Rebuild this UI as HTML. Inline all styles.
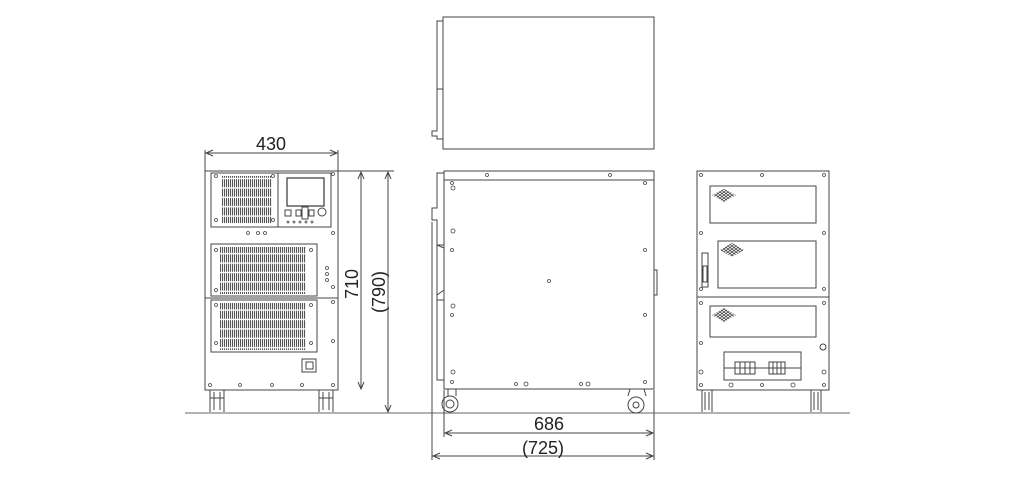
<!DOCTYPE html>
<html><head><meta charset="utf-8"><style>
html,body{margin:0;padding:0;background:#fff;}
svg{display:block;}
text{font-family:"Liberation Sans",sans-serif;fill:#222;}
</style></head><body>
<svg width="1024" height="482" viewBox="0 0 1024 482" xmlns="http://www.w3.org/2000/svg">
<defs>
<pattern id="v" width="2" height="9.4" patternUnits="userSpaceOnUse">
<rect x="0" y="0.6" width="1.1" height="8" fill="#555"/>
</pattern>
<pattern id="m" width="4" height="3" patternUnits="userSpaceOnUse">
<path d="M0 0L4 3M4 0L0 3" stroke="#333" stroke-width="0.7"/>
</pattern>
</defs>
<g fill="none" stroke="#444" stroke-width="1">
<line x1="185" y1="413" x2="850" y2="413" stroke="#666"/>

<!-- TOP VIEW -->
<rect x="443" y="17" width="211" height="132"/>
<path d="M443 21H437V131H432V136H437V139H443"/>
<line x1="437" y1="89" x2="443" y2="89"/>

<!-- FRONT VIEW -->
<rect x="205" y="171" width="133" height="219"/>
<rect x="211" y="173" width="67" height="54"/>
<rect x="278" y="173" width="53" height="54"/>
<rect x="287" y="178" width="37" height="28" stroke-width="1.3"/>
<rect x="285" y="210" width="6" height="6"/>
<rect x="296" y="210" width="5" height="6"/>
<rect x="302" y="207" width="6" height="12"/>
<rect x="309" y="210" width="5" height="6"/>
<circle cx="322" cy="212" r="4"/>
<rect x="211" y="244" width="106" height="52"/>
<rect x="211" y="300" width="106" height="52"/>
<line x1="205" y1="298" x2="338" y2="298"/>
<rect x="302" y="359" width="14" height="13"/>
<rect x="306" y="362" width="7" height="7"/>
<path d="M210 390V412M224 390V412M214 392V410M220 392V410M210 398H224"/>
<path d="M319 390V412M333 390V412M323 392V410M329 392V410M319 398H333"/>
<line x1="205" y1="150" x2="205" y2="171"/>
<line x1="338" y1="150" x2="338" y2="171"/>
<line x1="206" y1="153" x2="337" y2="153"/>
<path d="M213 150L206 153L213 156M330 150L337 153L330 156"/>
<line x1="338" y1="171" x2="394" y2="171"/>
<line x1="361" y1="172" x2="361" y2="389"/>
<path d="M358 179L361 172L364 179M358 382L361 389L364 382"/>
<line x1="388" y1="172" x2="388" y2="412"/>
<path d="M385 179L388 172L391 179M385 405L388 412L391 405"/>

<!-- SIDE VIEW -->
<rect x="444" y="171" width="210" height="218"/>
<line x1="444" y1="180" x2="654" y2="180"/>
<path d="M444 173H437V208H432V220H437V245H444M437 245V380H444M437 245L444 248"/>
<path d="M437 295L444 290M437 300L444 300"/>
<path d="M654 270H657V295H654"/>
<circle cx="450" cy="404" r="8"/><circle cx="450" cy="404" r="4"/>
<path d="M448 389V396M456 389V396"/>
<circle cx="636" cy="405" r="8"/><circle cx="636" cy="405" r="3"/>
<path d="M630 389L628 396M644 389L646 396"/>
<line x1="444" y1="390" x2="444" y2="437"/>
<line x1="654" y1="390" x2="654" y2="460"/>
<line x1="432" y1="222" x2="432" y2="460"/>
<line x1="445" y1="433" x2="653" y2="433"/>
<path d="M452 430L445 433L452 436M646 430L653 433L646 436"/>
<line x1="433" y1="456" x2="653" y2="456"/>
<path d="M440 453L433 456L440 459M646 453L653 456L646 459"/>

<!-- REAR VIEW -->
<rect x="697" y="171" width="132" height="219"/>
<rect x="710" y="186" width="106" height="37"/>
<rect x="718" y="241" width="98" height="47"/>
<line x1="697" y1="297" x2="829" y2="297"/>
<rect x="710" y="306" width="106" height="31"/>
<rect x="724" y="352" width="77" height="28"/>
<line x1="724" y1="368" x2="801" y2="368"/>
<rect x="702" y="253" width="6" height="34"/>
<rect x="703" y="266" width="4" height="16"/>
<path d="M735 362h20v12h-20zM740 362v12M745 362v12M750 362v12"/>
<path d="M769 362h16v12h-16zM773 362v12M777 362v12M781 362v12"/>
<circle cx="823" cy="347" r="3"/>
<path d="M702 390V412M712 390V412M705 392V410M709 392V410"/>
<path d="M811 390V412M821 390V412M814 392V410M818 392V410"/>
</g>
<g>
<rect x="222" y="176" width="50" height="47" fill="url(#v)"/>
<rect x="220" y="247" width="86" height="47" fill="url(#v)"/>
<rect x="220" y="303" width="86" height="47" fill="url(#v)"/>
<polygon points="712,195 724,189 736,195 724,202" fill="url(#m)"/>
<polygon points="720,250 732,243 744,250 732,257" fill="url(#m)"/>
<polygon points="712,315 724,308 736,315 724,322" fill="url(#m)"/>
</g>
<g fill="none" stroke="#444" stroke-width="0.8">
<circle cx="216" cy="176" r="1.5"/><circle cx="273" cy="176" r="1.5"/><circle cx="216" cy="220" r="1.5"/><circle cx="273" cy="220" r="1.5"/>
<circle cx="333" cy="174" r="1.5"/><circle cx="333" cy="233" r="1.5"/><circle cx="333" cy="287" r="1.5"/><circle cx="333" cy="302" r="1.5"/><circle cx="333" cy="341" r="1.5"/><circle cx="333" cy="385" r="1.5"/>
<circle cx="216" cy="250" r="1.5"/><circle cx="311" cy="250" r="1.5"/><circle cx="216" cy="290" r="1.5"/><circle cx="216" cy="305" r="1.5"/><circle cx="311" cy="305" r="1.5"/><circle cx="216" cy="343" r="1.5"/><circle cx="311" cy="343" r="1.5"/>
<circle cx="327" cy="268" r="1.5"/><circle cx="327" cy="274" r="1.5"/><circle cx="327" cy="280" r="1.5"/>
<circle cx="248" cy="233" r="1.5"/><circle cx="258" cy="233" r="1.5"/><circle cx="265" cy="233" r="1.5"/>
<circle cx="288" cy="222" r="1"/><circle cx="294" cy="222" r="1"/><circle cx="300" cy="222" r="1"/><circle cx="306" cy="222" r="1"/><circle cx="312" cy="222" r="1"/>
<circle cx="210" cy="385" r="1.5"/><circle cx="240" cy="385" r="1.5"/><circle cx="272" cy="385" r="1.5"/><circle cx="302" cy="385" r="1.5"/>
<circle cx="487" cy="175" r="1.5"/><circle cx="610" cy="175" r="1.5"/>
<circle cx="452" cy="183" r="1.5"/><circle cx="453" cy="188" r="2"/><circle cx="453" cy="231" r="2"/><circle cx="452" cy="250" r="1.5"/><circle cx="453" cy="306" r="2"/><circle cx="452" cy="315" r="1.5"/><circle cx="453" cy="372" r="2"/><circle cx="452" cy="382" r="1.5"/>
<circle cx="645" cy="183" r="1.5"/><circle cx="645" cy="250" r="1.5"/><circle cx="645" cy="315" r="1.5"/><circle cx="645" cy="382" r="1.5"/>
<circle cx="549" cy="281" r="1.5"/>
<circle cx="516" cy="384" r="1.5"/><circle cx="526" cy="384" r="2"/><circle cx="581" cy="384" r="1.5"/><circle cx="588" cy="384" r="2"/>
<circle cx="701" cy="175" r="1.5"/><circle cx="762" cy="175" r="1.5"/><circle cx="824" cy="175" r="1.5"/>
<circle cx="701" cy="233" r="1.5"/><circle cx="824" cy="233" r="1.5"/><circle cx="824" cy="289" r="1.5"/><circle cx="701" cy="289" r="1.5"/>
<circle cx="701" cy="303" r="1.5"/><circle cx="824" cy="303" r="1.5"/><circle cx="701" cy="343" r="1.5"/>
<circle cx="701" cy="372" r="2"/><circle cx="824" cy="372" r="2"/><circle cx="701" cy="385" r="1.5"/><circle cx="824" cy="385" r="1.5"/>
<circle cx="731" cy="385" r="2"/><circle cx="762" cy="385" r="1.5"/><circle cx="793" cy="385" r="2"/>
</g>
<text x="271" y="150" font-size="18" text-anchor="middle">430</text>
<text x="0" y="0" font-size="18" text-anchor="middle" transform="translate(358,284) rotate(-90)">710</text>
<text x="0" y="0" font-size="18" text-anchor="middle" transform="translate(385,292) rotate(-90)">(790)</text>
<text x="549" y="430" font-size="18" text-anchor="middle">686</text>
<text x="543" y="454" font-size="18" text-anchor="middle">(725)</text>
</svg>
</body></html>
